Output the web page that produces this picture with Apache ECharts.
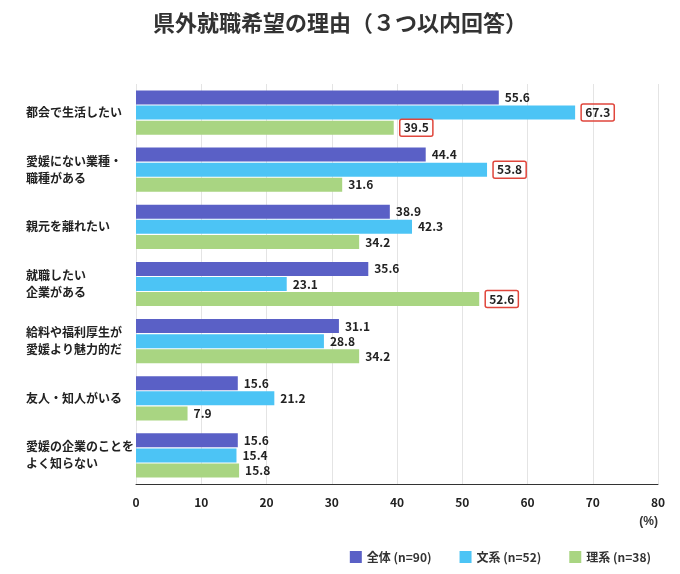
<!DOCTYPE html>
<html lang="ja">
<head>
<meta charset="UTF-8">
<title>県外就職希望の理由</title>
<script src="https://cdn.jsdelivr.net/npm/echarts@6/dist/echarts.min.js"></script>
<style>html,body{margin:0;padding:0;background:#fff}#main{width:680px;height:574px}</style>
</head>
<body>
<div id="main"></div>
<script>
var categories = ['都会で生活したい', '愛媛にない業種・\n職種がある', '親元を離れたい', '就職したい\n企業がある', '給料や福利厚生が\n愛媛より魅力的だ', '友人・知人がいる', '愛媛の企業のことを\nよく知らない'];
var zentai = [55.6, 44.4, 38.9, 35.6, 31.1, 15.6, 15.6];
var bunkei = [67.3, 53.8, 42.3, 23.1, 28.8, 21.2, 15.4];
var rikei = [39.5, 31.6, 34.2, 52.6, 34.2, 7.9, 15.8];
// 赤枠で強調する値の位置
var bunkeiMark = [0, 1];
var rikeiMark = [0, 3];

function toData(vals, marks) {
    return vals.map(function (v, i) {
        if (marks.indexOf(i) < 0) return v;
        return {
            value: v,
            label: {borderColor: '#e0463c', borderWidth: 1.5, borderRadius: 2, padding: [3, 4, 2, 4]}
        };
    });
}

var labelStyle = {show: true, position: 'right', color: '#222', fontSize: 12, fontWeight: 'bold', distance: 6, formatter: function (p) { return p.value.toFixed(1); }};

var chart = echarts.init(document.getElementById('main'));
chart.setOption({
    textStyle: {fontFamily: 'Noto Sans CJK JP'},
    title: {
        text: '県外就職希望の理由（３つ以内回答）',
        left: 'center', top: 7,
        textStyle: {fontSize: 22, fontWeight: 'bold', color: '#333'}
    },
    legend: {
        right: 24, bottom: 6, itemWidth: 12, itemHeight: 12, itemGap: 28,
        icon: 'rect',
        textStyle: {fontSize: 12, fontWeight: 'bold', color: '#333'},
        data: ['全体 (n=90)', '文系 (n=52)', '理系 (n=38)']
    },
    graphic: [{type: 'text', right: 22, top: 516, style: {text: '(%)', fontSize: 12, fill: '#333', fontWeight: 'bold'}}],
    grid: {left: 136, right: 22, top: 84, bottom: 90},
    xAxis: {
        type: 'value', min: 0, max: 80, interval: 10,
        axisLine: {show: true, lineStyle: {color: '#333'}},
        axisTick: {show: false},
        axisLabel: {color: '#222', fontSize: 12, fontWeight: 'bold', margin: 12},
        splitLine: {lineStyle: {color: '#e4e4e4'}}
    },
    yAxis: {
        type: 'category', inverse: true, data: categories,
        axisLine: {show: false}, axisTick: {show: false},
        axisLabel: {align: 'left', margin: 110, color: '#222', fontSize: 12, fontWeight: 'bold', lineHeight: 17}
    },
    series: [
        {name: '全体 (n=90)', type: 'bar', data: toData(zentai, []), barWidth: 14, barGap: '8%', barCategoryGap: '22%', itemStyle: {color: '#5a60c6'}, label: labelStyle},
        {name: '文系 (n=52)', type: 'bar', data: toData(bunkei, bunkeiMark), barWidth: 14, itemStyle: {color: '#4cc4f5'}, label: labelStyle},
        {name: '理系 (n=38)', type: 'bar', data: toData(rikei, rikeiMark), barWidth: 14, itemStyle: {color: '#a9d582'}, label: labelStyle}
    ]
});
</script>
</body>
</html>
